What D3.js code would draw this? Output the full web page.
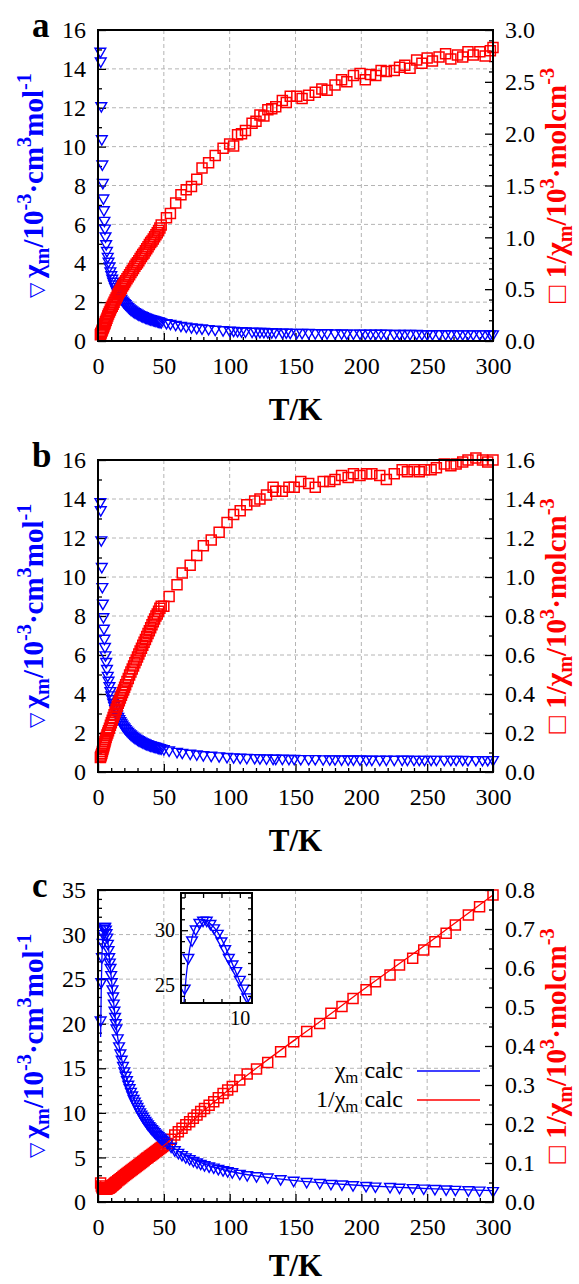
<!DOCTYPE html>
<html>
<head>
<meta charset="utf-8">
<script src="https://cdnjs.cloudflare.com/ajax/libs/d3/7.8.5/d3.min.js"></script>
<style>
  html, body { margin: 0; padding: 0; background: #fff; }
  svg { display: block; }
</style>
</head>
<body>
<script>
// ---------- shared temperature axis ----------
const tempTicks = [0, 50, 100, 150, 200, 250, 300];

// ---------- panel a ----------
const aTemp = [1.8, 2.1, 2.5, 2.9, 3.3, 3.7, 4.1, 4.5, 4.9, 5.3, 5.7, 6.2, 6.8, 7.4, 8, 8.7, 9.4, 10.1, 10.8, 11.5,
  12.2, 13, 13.8, 14.6, 15.4, 16.2, 17, 17.8, 18.6, 19.4, 20.2, 21, 22, 23, 24, 25, 26, 27, 28, 29,
  30, 31, 32, 33, 34, 35, 36, 37, 38, 39, 40, 41, 42, 43, 44, 45, 46, 47, 48,
  52, 55, 59, 63, 67, 71, 75, 79, 84, 89, 95, 100, 103, 106, 109, 112, 117, 120, 123, 126,
  129, 132, 135, 140, 143, 146, 151, 155, 160, 165, 170, 174, 180, 185, 189, 194, 199, 203, 207, 211,
  215, 219, 225, 229, 233, 237, 242, 246, 250, 254, 259, 264, 268, 273, 277, 281, 285, 290, 294, 298, 300];
const aChi = [14.9, 14.4, 12.1, 10.4, 9.1, 8.15, 7.35, 6.75, 6.2, 5.8, 5.4, 5.0, 4.65, 4.35, 4.1, 3.85, 3.6, 3.4, 3.22, 3.07,
  2.93, 2.79, 2.66, 2.55, 2.45, 2.35, 2.26, 2.18, 2.1, 2.03, 1.97, 1.91, 1.84, 1.76, 1.7, 1.64, 1.59, 1.54, 1.5, 1.46,
  1.42, 1.38, 1.35, 1.32, 1.29, 1.26, 1.23, 1.21, 1.18, 1.16, 1.14, 1.12, 1.1, 1.08, 1.06, 1.04, 1.02, 1.0, 0.98,
  0.94, 0.90, 0.85, 0.80, 0.76, 0.72, 0.69, 0.66, 0.63, 0.60, 0.57, 0.55, 0.54, 0.53, 0.52, 0.51, 0.50, 0.49, 0.48, 0.48,
  0.47, 0.47, 0.46, 0.45, 0.45, 0.44, 0.44, 0.43, 0.43, 0.42, 0.42, 0.42, 0.41, 0.41, 0.40, 0.40, 0.40, 0.39, 0.39, 0.39,
  0.39, 0.39, 0.38, 0.38, 0.38, 0.38, 0.38, 0.37, 0.37, 0.37, 0.37, 0.37, 0.37, 0.36, 0.36, 0.36, 0.36, 0.36, 0.36, 0.36, 0.36];
const aInvChi = [0.06, 0.07, 0.08, 0.095, 0.105, 0.12, 0.13, 0.145, 0.16, 0.17, 0.185, 0.2, 0.22, 0.24, 0.26, 0.28, 0.3, 0.32, 0.335, 0.355,
  0.375, 0.395, 0.415, 0.435, 0.455, 0.475, 0.49, 0.51, 0.53, 0.545, 0.565, 0.58, 0.6, 0.62, 0.64, 0.66, 0.68, 0.7, 0.72, 0.74,
  0.755, 0.775, 0.795, 0.815, 0.835, 0.85, 0.87, 0.89, 0.91, 0.93, 0.95, 0.965, 0.985, 1.005, 1.025, 1.045, 1.065, 1.09, 1.12,
  1.19, 1.23, 1.33, 1.41, 1.46, 1.49, 1.56, 1.67, 1.72, 1.79, 1.86, 1.90, 1.88, 1.99, 2.00, 2.03, 2.10, 2.12, 2.18, 2.17,
  2.23, 2.24, 2.26, 2.32, 2.30, 2.36, 2.36, 2.34, 2.37, 2.40, 2.43, 2.42, 2.47, 2.52, 2.50, 2.56, 2.58, 2.52, 2.57, 2.56,
  2.61, 2.60, 2.61, 2.64, 2.66, 2.63, 2.71, 2.68, 2.73, 2.70, 2.74, 2.77, 2.72, 2.76, 2.74, 2.79, 2.76, 2.79, 2.75, 2.80, 2.83];
const aChiTicks = [0, 2, 4, 6, 8, 10, 12, 14, 16];
const aInvTicks = [0, 0.5, 1.0, 1.5, 2.0, 2.5, 3.0];

// ---------- panel b ----------
const bTemp = [1.8, 2.1, 2.5, 2.9, 3.3, 3.7, 4.1, 4.5, 4.9, 5.3, 5.7, 6.2, 6.8, 7.4, 8, 8.7, 9.4, 10.1, 10.8, 11.5,
  12.2, 13, 13.8, 14.6, 15.4, 16.2, 17, 17.8, 18.6, 19.4, 20.2, 21, 22, 23, 24, 25, 26, 27, 28, 29,
  30, 31, 32, 33, 34, 35, 36, 37, 38, 39, 40, 41, 42, 43, 44, 45, 46, 47, 48,
  50, 54, 60, 64, 70, 75, 80, 86, 92, 98, 103, 108, 113, 119, 123, 128, 133, 135, 140, 145,
  149, 154, 160, 165, 171, 176, 180, 185, 190, 194, 199, 204, 208, 214, 219, 225, 231, 235, 240, 244,
  248, 253, 257, 263, 268, 272, 277, 281, 287, 292, 296, 300];
const bChi = [13.86, 13.44, 11.9, 10.53, 9.5, 8.65, 7.96, 7.37, 6.85, 6.43, 6.0, 5.66, 5.3, 4.95, 4.7, 4.42, 4.17, 3.95, 3.75, 3.57,
  3.41, 3.24, 3.1, 2.96, 2.84, 2.73, 2.62, 2.53, 2.44, 2.36, 2.29, 2.22, 2.14, 2.07, 2.0, 1.94, 1.88, 1.83, 1.78, 1.73,
  1.69, 1.65, 1.61, 1.58, 1.54, 1.51, 1.48, 1.45, 1.43, 1.4, 1.38, 1.36, 1.34, 1.32, 1.3, 1.28, 1.26, 1.24, 1.22,
  1.19, 1.12, 1.05, 1.0, 0.96, 0.92, 0.88, 0.85, 0.82, 0.79, 0.77, 0.75, 0.74, 0.73, 0.72, 0.71, 0.70, 0.70, 0.70, 0.69,
  0.69, 0.68, 0.68, 0.68, 0.67, 0.67, 0.67, 0.66, 0.66, 0.66, 0.66, 0.65, 0.65, 0.65, 0.65, 0.65, 0.65, 0.65, 0.64, 0.64,
  0.64, 0.64, 0.64, 0.64, 0.64, 0.64, 0.64, 0.63, 0.63, 0.63, 0.63, 0.63];
const bInvChi = [0.075, 0.08, 0.087, 0.095, 0.105, 0.115, 0.125, 0.135, 0.145, 0.155, 0.165, 0.177, 0.19, 0.2, 0.212, 0.225, 0.24, 0.253, 0.266, 0.28,
  0.293, 0.308, 0.322, 0.337, 0.352, 0.366, 0.38, 0.394, 0.408, 0.421, 0.435, 0.448, 0.464, 0.48, 0.497, 0.513, 0.528, 0.544, 0.56, 0.575,
  0.59, 0.605, 0.62, 0.635, 0.65, 0.665, 0.68, 0.695, 0.71, 0.725, 0.74, 0.755, 0.77, 0.785, 0.8, 0.81, 0.825, 0.84, 0.85,
  0.85, 0.90, 0.96, 1.02, 1.06, 1.11, 1.16, 1.19, 1.23, 1.28, 1.32, 1.34, 1.37, 1.39, 1.40, 1.42, 1.46, 1.44, 1.44, 1.46,
  1.46, 1.49, 1.48, 1.46, 1.49, 1.49, 1.50, 1.52, 1.51, 1.53, 1.52, 1.53, 1.53, 1.52, 1.50, 1.53, 1.55, 1.54, 1.55, 1.54,
  1.55, 1.55, 1.56, 1.58, 1.57, 1.58, 1.59, 1.60, 1.61, 1.60, 1.59, 1.60];
const bChiTicks = [0, 2, 4, 6, 8, 10, 12, 14, 16];
const bInvTicks = [0, 0.2, 0.4, 0.6, 0.8, 1.0, 1.2, 1.4, 1.6];

// ---------- panel c ----------
const cTemp = [2, 2.5, 3, 3.5, 4, 4.5, 5, 5.5, 6, 6.5, 7, 7.5, 8, 8.5, 9, 9.5, 10, 10.5, 11, 11.5,
  12, 12.5, 13, 13.5, 14, 15, 16, 17, 18, 19, 20, 21, 22, 23, 24, 25, 26, 27, 28, 29,
  30, 31, 32, 33, 34, 35, 36, 37, 38, 39, 40, 41, 42, 43, 44, 45, 46, 47, 48, 49, 50,
  52.6, 55.5, 58.3, 61, 63.8, 66.7, 69.6, 72.4, 75.2, 78, 80.9, 84.4, 87.9, 91.4, 95, 98.5, 102, 107.7, 113.3, 120.4, 128.9, 138.7, 148.6, 158.5,
  168.4, 176.9, 185.3, 193.7, 203.6, 210.7, 221.8, 229, 239, 247.4, 255.9, 264.4, 271.4, 281.3, 289.8, 300];
const cChi = [20.4, 24.7, 27.5, 29.1, 30.1, 30.7, 30.9, 30.9, 30.6, 30.2, 29.7, 29.0, 28.3, 27.5, 26.9, 26.3, 25.5, 24.7, 23.9, 23.1,
  22.3, 21.5, 20.8, 20.1, 19.5, 18.4, 17.5, 16.7, 16.0, 15.3, 14.7, 14.2, 13.7, 13.2, 12.8, 12.4, 12.0, 11.6, 11.3, 11.0,
  10.7, 10.4, 10.1, 9.85, 9.6, 9.37, 9.15, 8.94, 8.74, 8.55, 8.37, 8.2, 8.03, 7.87, 7.72, 7.57, 7.43, 7.29, 7.16, 7.03, 6.9,
  6.67, 6.25, 5.85, 5.55, 5.3, 5.05, 4.85, 4.65, 4.48, 4.32, 4.17, 4.03, 3.9, 3.75, 3.6, 3.49, 3.38, 3.2, 3.05, 2.93, 2.79, 2.6, 2.43, 2.29,
  2.18, 2.07, 2.0, 1.92, 1.84, 1.77, 1.72, 1.64, 1.6, 1.55, 1.5, 1.45, 1.41, 1.36, 1.32, 1.27];
const cInvChi = [0.049, 0.041, 0.0365, 0.0345, 0.0333, 0.0327, 0.0325, 0.0325, 0.0327, 0.0331, 0.0337, 0.0344, 0.0352, 0.0362, 0.0373, 0.0386, 0.04, 0.0415, 0.0429, 0.0442,
  0.0457, 0.0472, 0.0485, 0.05, 0.0515, 0.0543, 0.0571, 0.0599, 0.0625, 0.0654, 0.068, 0.0704, 0.073, 0.0758, 0.0781, 0.0806, 0.0833, 0.0862, 0.0885, 0.0909,
  0.0935, 0.0962, 0.099, 0.1015, 0.104, 0.1067, 0.1093, 0.1119, 0.1144, 0.117, 0.1195, 0.122, 0.1245, 0.127, 0.1295, 0.1321, 0.1346, 0.1372, 0.1397, 0.1422, 0.1449,
  0.150, 0.161, 0.172, 0.180, 0.189, 0.198, 0.206, 0.215, 0.223, 0.232, 0.240, 0.248, 0.257, 0.267, 0.278, 0.287, 0.296, 0.313, 0.328, 0.341, 0.358, 0.385, 0.411, 0.437,
  0.458, 0.484, 0.501, 0.522, 0.544, 0.565, 0.582, 0.608, 0.625, 0.646, 0.667, 0.689, 0.710, 0.736, 0.757, 0.787];
// model curves
const cFitTemp = [2, 2.5, 3, 3.5, 4, 5, 6, 7, 8, 9, 10, 12, 14, 16, 18, 20, 25, 30, 35, 40, 50, 60, 70, 80, 100, 125, 150, 175, 200, 225, 250, 275, 300];
const cFitChi = [18.5, 24.2, 27.5, 29.3, 30.3, 30.9, 30.6, 29.8, 28.5, 26.9, 25.3, 22.2, 19.5, 17.5, 16.0, 14.7, 12.4, 10.7, 9.37, 8.37, 6.9, 5.8, 4.95, 4.3, 3.45, 2.82, 2.4, 2.09, 1.85, 1.66, 1.51, 1.38, 1.27];
const cFitInvChi = [0.054, 0.0413, 0.0364, 0.0341, 0.033, 0.0324, 0.0327, 0.0336, 0.0351, 0.0372, 0.0398, 0.0457, 0.0515, 0.0571, 0.0625, 0.068, 0.0806, 0.0935, 0.1067, 0.1195, 0.145, 0.172, 0.202, 0.233, 0.29, 0.355, 0.417, 0.478, 0.541, 0.602, 0.662, 0.725, 0.787];
const cChiTicks = [0, 5, 10, 15, 20, 25, 30, 35];
const cInvTicks = [0, 0.1, 0.2, 0.3, 0.4, 0.5, 0.6, 0.7, 0.8];
const insetChiTicks = [25, 30];
const insetTempTicks = [10];

// ---------- drawing ----------
const W = 579, H = 1284;
const SERIF = "'Liberation Serif', 'Times New Roman', serif";
const BLUE = "#0000ff", RED = "#ff0000";
const PL = 98, PR = 493;

const svg = d3.select("body").append("svg")
  .attr("width", W).attr("height", H)
  .style("font-family", SERIF);

const triangle = d3.symbol().type(d3.symbolTriangle).size(50);
const square = d3.symbol().type(d3.symbolSquare).size(100);

// writes a run of normal / sub / sup pieces into a text element
function richText(text, parts, size) {
  const shift = { n: 0, sub: size * 0.2, sup: -size * 0.42 };
  let cur = 0;
  parts.forEach(([str, kind, extra]) => {
    const target = shift[kind];
    const t = text.append("tspan")
      .attr("dy", target - cur)
      .text(str);
    if (kind !== "n") t.attr("font-size", size * 0.7);
    if (extra) Object.entries(extra).forEach(([k, v]) => t.attr(k, v));
    cur = target;
  });
}

function styleAxis(g) {
  g.select(".domain").remove();
  g.selectAll(".tick line").attr("stroke", "#000").attr("stroke-width", 1.3);
  g.selectAll(".tick text").attr("font-family", SERIF).attr("font-size", 24).attr("fill", "#000");
}

function drawPanel(p) {
  const g = svg.append("g");
  const x = d3.scaleLinear().domain([0, 300]).range([PL, PR]);
  const y = d3.scaleLinear().domain([0, p.yMax]).range([p.bottom, p.top]);
  const y2 = d3.scaleLinear().domain([0, p.y2Max]).range([p.bottom, p.top]);

  // dashed grid at major ticks
  const grid = g.append("g").attr("stroke", "#b4b4b4").attr("stroke-width", 1).attr("stroke-dasharray", "4,3");
  grid.selectAll("line.gx").data(tempTicks.filter(v => v > 0 && v < 300)).join("line")
    .attr("x1", d => x(d)).attr("x2", d => x(d)).attr("y1", p.top).attr("y2", p.bottom);
  grid.selectAll("line.gy").data(p.yTicks.filter(v => v > 0 && v < p.yMax)).join("line")
    .attr("x1", PL).attr("x2", PR).attr("y1", d => y(d)).attr("y2", d => y(d));

  // axes
  const xMinor = d3.range(0, 301, 10).filter(v => v % 50 !== 0);
  g.append("g").attr("transform", `translate(0,${p.bottom})`)
    .call(d3.axisBottom(x).tickValues(tempTicks).tickFormat(d3.format("d")).tickSizeInner(-8).tickSizeOuter(0).tickPadding(16))
    .call(styleAxis);
  g.append("g").attr("transform", `translate(0,${p.bottom})`)
    .call(d3.axisBottom(x).tickValues(xMinor).tickFormat("").tickSizeInner(-4).tickSizeOuter(0))
    .call(styleAxis);

  g.append("g").attr("transform", `translate(${PL},0)`)
    .call(d3.axisLeft(y).tickValues(p.yTicks).tickFormat(d3.format("d")).tickSizeInner(-8).tickSizeOuter(0).tickPadding(12))
    .call(styleAxis);
  g.append("g").attr("transform", `translate(${PL},0)`)
    .call(d3.axisLeft(y).tickValues(p.yMinor).tickFormat("").tickSizeInner(-4).tickSizeOuter(0))
    .call(styleAxis);

  g.append("g").attr("transform", `translate(${PR},0)`)
    .call(d3.axisRight(y2).tickValues(p.y2Ticks).tickFormat(d3.format(".1f")).tickSizeInner(-8).tickSizeOuter(0).tickPadding(12))
    .call(styleAxis);
  g.append("g").attr("transform", `translate(${PR},0)`)
    .call(d3.axisRight(y2).tickValues(p.y2Minor).tickFormat("").tickSizeInner(-4).tickSizeOuter(0))
    .call(styleAxis);

  // data
  const chiPts = p.temp.map((t, i) => [t, p.chi[i]]);
  const invPts = p.temp.map((t, i) => [t, p.inv[i]]);

  const drawChi = () => g.append("g").selectAll("path").data(chiPts).join("path")
    .attr("d", triangle)
    .attr("transform", d => `translate(${x(d[0])},${y(d[1])}) rotate(180)`)
    .attr("fill", "none").attr("stroke", BLUE).attr("stroke-width", 1.4);
  const drawInv = () => g.append("g").selectAll("path").data(invPts).join("path")
    .attr("d", square)
    .attr("transform", d => `translate(${x(d[0])},${y2(d[1])})`)
    .attr("fill", "none").attr("stroke", RED).attr("stroke-width", 1.5);

  if (p.chiOnTop) { drawInv(); drawChi(); } else { drawChi(); drawInv(); }

  if (p.fit) {
    g.append("path").datum(p.fit.temp.map((t, i) => [t, p.fit.chi[i]]))
      .attr("d", d3.line().x(d => x(d[0])).y(d => y(d[1])).curve(d3.curveMonotoneX))
      .attr("fill", "none").attr("stroke", BLUE).attr("stroke-width", 1.3);
    g.append("path").datum(p.fit.temp.map((t, i) => [t, p.fit.inv[i]]))
      .attr("d", d3.line().x(d => x(d[0])).y(d => y2(d[1])).curve(d3.curveMonotoneX))
      .attr("fill", "none").attr("stroke", RED).attr("stroke-width", 1.3);
  }

  // frame
  g.append("rect").attr("x", PL).attr("y", p.top).attr("width", PR - PL).attr("height", p.bottom - p.top)
    .attr("fill", "none").attr("stroke", "#000").attr("stroke-width", 2);

  // panel letter
  g.append("text").attr("x", 32).attr("y", p.top + 7)
    .attr("font-size", 35).attr("font-weight", "bold").text(p.letter);

  // T/K
  g.append("text").attr("x", (PL + PR) / 2).attr("y", Math.min(p.bottom + 79, H - 8))
    .attr("text-anchor", "middle").attr("font-size", 31).attr("font-weight", "bold").text("T/K");

  const midY = (p.top + p.bottom) / 2;
  const LS = 29;
  const lt = g.append("text").attr("transform", `translate(43,${midY}) rotate(-90)`)
    .attr("text-anchor", "middle").attr("font-size", LS).attr("font-weight", "bold").attr("fill", BLUE);
  richText(lt, [["\u25BD ", "n", { "font-weight": "normal", "font-size": 20 }], ["\u03C7", "n"], ["m", "sub"], ["/10", "n"], ["-3", "sup"],
    ["\u00B7cm", "n"], ["3", "sup"], ["mol", "n"], ["-1", "sup"]], LS);

  const rt = g.append("text").attr("transform", `translate(566,${midY}) rotate(-90)`)
    .attr("text-anchor", "middle").attr("font-size", LS).attr("font-weight", "bold").attr("fill", RED);
  richText(rt, [["\u25A1 ", "n", { "font-weight": "normal" }], ["1/\u03C7", "n"], ["m", "sub"], ["/10", "n"], ["3", "sup"],
    ["\u00B7molcm", "n"], ["-3", "sup"]], LS);

  return { g, x, y, y2 };
}

drawPanel({
  letter: "a", top: 30, bottom: 341,
  yMax: 16, yTicks: aChiTicks, yMinor: d3.range(1, 16, 2),
  y2Max: 3, y2Ticks: aInvTicks, y2Minor: d3.range(0.1, 3, 0.1).filter(v => Math.abs(v * 2 - Math.round(v * 2)) > 1e-6),
  temp: aTemp, chi: aChi, inv: aInvChi
});

drawPanel({
  letter: "b", top: 460, bottom: 772,
  yMax: 16, yTicks: bChiTicks, yMinor: d3.range(1, 16, 2),
  y2Max: 1.6, y2Ticks: bInvTicks, y2Minor: d3.range(0.1, 1.6, 0.2),
  temp: bTemp, chi: bChi, inv: bInvChi
});

const pc = drawPanel({
  letter: "c", top: 890, bottom: 1202,
  yMax: 35, yTicks: cChiTicks, yMinor: d3.range(1, 35, 1).filter(v => v % 5 !== 0),
  y2Max: 0.8, y2Ticks: cInvTicks, y2Minor: d3.range(0.05, 0.8, 0.1),
  temp: cTemp, chi: cChi, inv: cInvChi, chiOnTop: true,
  fit: { temp: cFitTemp, chi: cFitChi, inv: cFitInvChi }
});

// legend for panel c
{
  const lg = pc.g.append("g").attr("font-size", 24);
  const rows = [
    { parts: [["\u03C7", "n"], ["m", "sub"], [" calc", "n"]], color: BLUE, y: 1078 },
    { parts: [["1/\u03C7", "n"], ["m", "sub"], [" calc", "n"]], color: RED, y: 1107 }
  ];
  rows.forEach(r => {
    const t = lg.append("text").attr("x", 403).attr("y", r.y).attr("text-anchor", "end");
    richText(t, r.parts, 24);
    lg.append("line").attr("x1", 417).attr("x2", 480).attr("y1", r.y - 7).attr("y2", r.y - 7)
      .attr("stroke", r.color).attr("stroke-width", 1.3);
  });
}

// inset: low-temperature maximum of chi
{
  const ix0 = 181, ix1 = 252, iy0 = 893, iy1 = 1003;
  const ix = d3.scaleLinear().domain([2, 11.65]).range([ix0, ix1]);
  const iy = d3.scaleLinear().domain([23.35, 33.4]).range([iy1, iy0]);
  const ig = pc.g.append("g");
  ig.append("clipPath").attr("id", "insetClip").append("rect")
    .attr("x", ix0).attr("y", iy0).attr("width", ix1 - ix0).attr("height", iy1 - iy0);
  const body = ig.append("g").attr("clip-path", "url(#insetClip)");
  const pts = cTemp.map((t, i) => [t, cChi[i]]).filter(d => d[0] <= 12);
  body.selectAll("path.pt").data(pts).join("path")
    .attr("d", triangle)
    .attr("transform", d => `translate(${ix(d[0])},${iy(d[1])}) rotate(180)`)
    .attr("fill", "none").attr("stroke", BLUE).attr("stroke-width", 1.4);
  body.append("path").datum(cFitTemp.map((t, i) => [t, cFitChi[i]]).filter(d => d[0] <= 14))
    .attr("d", d3.line().x(d => ix(d[0])).y(d => iy(d[1])).curve(d3.curveMonotoneX))
    .attr("fill", "none").attr("stroke", BLUE).attr("stroke-width", 1.3);

  const ax = (sel) => sel.call(g => { g.select(".domain").remove(); g.selectAll(".tick line").attr("stroke", "#000").attr("stroke-width", 1.3); g.selectAll(".tick text").attr("font-family", SERIF).attr("font-size", 20).attr("fill", "#000"); });
  ig.append("g").attr("transform", `translate(${ix0},0)`)
    .call(d3.axisLeft(iy).tickValues(insetChiTicks).tickFormat(d3.format("d")).tickSizeInner(-7).tickSizeOuter(0).tickPadding(6)).call(ax);
  ig.append("g").attr("transform", `translate(${ix0},0)`)
    .call(d3.axisLeft(iy).tickValues(d3.range(24, 34, 1).filter(v => v % 5 !== 0)).tickFormat("").tickSizeInner(-4).tickSizeOuter(0)).call(ax);
  ig.append("g").attr("transform", `translate(${ix1},0)`)
    .call(d3.axisRight(iy).tickValues(d3.range(24, 34, 1)).tickFormat("").tickSizeInner(-4).tickSizeOuter(0)).call(ax);
  ig.append("g").attr("transform", `translate(0,${iy1})`)
    .call(d3.axisBottom(ix).tickValues(insetTempTicks).tickFormat(d3.format("d")).tickSizeInner(-7).tickSizeOuter(0).tickPadding(8)).call(ax);
  ig.append("g").attr("transform", `translate(0,${iy1})`)
    .call(d3.axisBottom(ix).tickValues([2.5, 5, 7.5]).tickFormat("").tickSizeInner(-4).tickSizeOuter(0)).call(ax);
  ig.append("g").attr("transform", `translate(0,${iy0})`)
    .call(d3.axisTop(ix).tickValues([2.5, 5, 7.5, 10]).tickFormat("").tickSizeInner(-5).tickSizeOuter(0)).call(ax);
  ig.append("rect").attr("x", ix0).attr("y", iy0).attr("width", ix1 - ix0).attr("height", iy1 - iy0)
    .attr("fill", "none").attr("stroke", "#000").attr("stroke-width", 2);
}
</script>
</body>
</html>
